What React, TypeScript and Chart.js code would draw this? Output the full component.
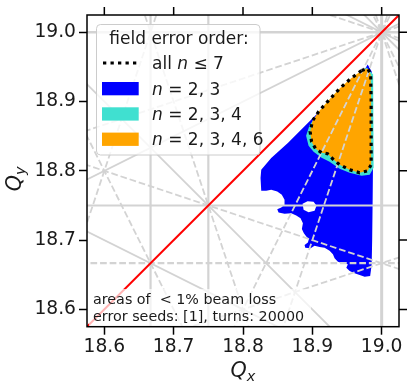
import React, { useEffect, useRef } from 'react';
import { Chart, registerables } from 'chart.js';

Chart.register(...registerables);

// ---- axes ----
const axisMin = 18.575;
const axisMax = 19.025;
const xTickValues = [18.6, 18.7, 18.8, 18.9, 19.0];
const yTickValues = [18.6, 18.7, 18.8, 18.9, 19.0];
const lineSpan = [18.4, 19.2];

// ---- resonance lines m*Qx + n*Qy = p ----
const resonanceM = [1, 0, 2, 3, 0, 2, 2, 1, 1, 2, 1, 4, 0, 3, 3, 1, 1, 2, 3, 3, 1, 1];
const resonanceN = [0, 2, 2, 0, 3, 1, 1, 2, 2, -1, -2, 0, 4, 1, 1, 3, 3, 2, -1, -1, -3, -3];
const resonanceP = [19, 38, 76, 56, 56, 56, 57, 56, 57, 19, -19, 75, 75, 75, 76, 75, 76, 75, 37, 38, -37, -38];

// ---- regions of < 1% beam loss ----
const blueQx = [18.9798, 18.9856, 18.987, 18.9877, 18.987, 18.9863, 18.9856, 18.9834, 18.9755, 18.961, 18.9538, 18.949, 18.9513, 18.9441, 18.9369, 18.9321, 18.9297, 18.9249, 18.9177, 18.9105, 18.9032, 18.8975, 18.8898, 18.8888, 18.8936, 18.895, 18.8913, 18.8878, 18.8849, 18.8864, 18.883, 18.8768, 18.8696, 18.8599, 18.8513, 18.8494, 18.8552, 18.8599, 18.8599, 18.856, 18.8494, 18.8407, 18.8335, 18.8263, 18.8253, 18.8263, 18.8407, 18.8647, 18.8888, 18.908, 18.9321, 18.9466, 18.961, 18.9755];
const blueQy = [18.9535, 18.9434, 18.9029, 18.8305, 18.7582, 18.7003, 18.6641, 18.6482, 18.6472, 18.6521, 18.6554, 18.6602, 18.6651, 18.6666, 18.6689, 18.6738, 18.6796, 18.6848, 18.6891, 18.6902, 18.692, 18.6883, 18.6891, 18.6931, 18.6964, 18.7017, 18.7051, 18.71, 18.7162, 18.7245, 18.7317, 18.7355, 18.7389, 18.7379, 18.7398, 18.7447, 18.747, 18.7509, 18.7582, 18.7654, 18.7702, 18.7727, 18.7712, 18.7712, 18.7896, 18.8016, 18.8185, 18.8402, 18.8643, 18.8836, 18.9077, 18.9221, 18.9318, 18.9463];

const holeQx = [18.8859, 18.8931, 18.9018, 18.9061, 18.9032, 18.8946, 18.8874];
const holeQy = [18.7524, 18.756, 18.7553, 18.7495, 18.7423, 18.7401, 18.7437];

const cyanQx = [18.9682, 18.9783, 18.9877, 18.9884, 18.9827, 18.9711, 18.9538, 18.9394, 18.9249, 18.9134, 18.9018, 18.8946, 18.891, 18.896, 18.906, 18.918, 18.936, 18.952];
const cyanQy = [18.942, 18.9492, 18.9391, 18.8045, 18.7944, 18.7929, 18.7973, 18.803, 18.8132, 18.819, 18.8276, 18.8363, 18.8508, 18.866, 18.88, 18.895, 18.915, 18.929];

const orangeQx = [18.9711, 18.9798, 18.9841, 18.9848, 18.9848, 18.9798, 18.9682, 18.9538, 18.9394, 18.9292, 18.922, 18.9134, 18.9047, 18.8989, 18.8968, 18.9004, 18.909, 18.922, 18.9394, 18.9538];
const orangeQy = [18.9449, 18.9478, 18.9391, 18.9029, 18.8088, 18.8001, 18.7973, 18.8016, 18.8088, 18.8175, 18.8247, 18.8262, 18.832, 18.8421, 18.8566, 18.8725, 18.8855, 18.9, 18.9188, 18.9318];

// ---- texts ----
const legendTitle = 'field error order:';
const legendAllLabel = ['all ', 'n', ' \u2264 7'];
const legendOrders = ['2, 3', '2, 3, 4', '2, 3, 4, 6'];
const noteLines = ['areas of  < 1% beam loss', 'error seeds: [1], turns: 20000'];

const BLUE = '#0000ff';
const CYAN = '#40e0d0';
const ORANGE = '#ffa500';
const GREY = '#d3d3d3';
const INK = '#1a1a1a';
const FONT = '"DejaVu Sans", "Liberation Sans", sans-serif';

function polygon(xs: number[], ys: number[]) {
  const pts = xs.map((x, i) => ({ x, y: ys[i] }));
  pts.push({ x: xs[0], y: ys[0] });
  return pts;
}

function fillDataset(xs: number[], ys: number[], color: string, order: number) {
  return {
    data: polygon(xs, ys),
    borderWidth: 0,
    borderColor: 'rgba(0,0,0,0)',
    backgroundColor: color,
    fill: 'shape',
    pointRadius: 0,
    order,
  };
}

function resonanceDatasets() {
  return resonanceM.map((m, i) => {
    const n = resonanceN[i];
    const p = resonanceP[i];
    let data;
    if (n === 0) {
      data = [{ x: p / m, y: lineSpan[0] }, { x: p / m, y: lineSpan[1] }];
    } else {
      data = lineSpan.map((x) => ({ x, y: (p - m * x) / n }));
    }
    const dashed = Math.abs(n) % 2 === 1;
    const integer = (n === 0 && Math.abs(p / m - 19) < 1e-9) || (m === 0 && Math.abs(p / n - 19) < 1e-9);
    const axisLine = n === 0 || m === 0;
    return {
      data,
      borderColor: GREY,
      borderWidth: integer ? (n === 0 ? 3 : 2.5) : axisLine ? 2.2 : 1.8,
      borderDash: dashed ? [6.7, 2.9] : [],
      fill: false,
      pointRadius: 0,
      order: 50,
    };
  });
}

function drawRich(ctx: CanvasRenderingContext2D, x: number, y: number, parts: [string, boolean][], size: number) {
  let cx = x;
  for (const [t, italic] of parts) {
    ctx.font = `${italic ? 'italic ' : ''}${size}px ${FONT}`;
    ctx.fillText(t, cx, y);
    cx += ctx.measureText(t).width;
  }
}

const decor = {
  id: 'decor',
  afterDraw(chart: any) {
    const { ctx, chartArea: a } = chart;
    const xs = chart.scales.x;
    const ys = chart.scales.y;
    ctx.save();

    // note box
    ctx.fillStyle = 'rgba(255,255,255,0.7)';
    ctx.fillRect(89, 289, 222, a.bottom - 289);
    ctx.fillStyle = INK;
    ctx.textAlign = 'left';
    ctx.textBaseline = 'alphabetic';
    ctx.font = `14.3px ${FONT}`;
    ctx.fillText(noteLines[0], 93, 304);
    ctx.fillText(noteLines[1], 93, 320.7);

    // legend
    const lx = 96.5, ly = 24.5, lw = 163.5, lh = 130.5, r = 4;
    ctx.beginPath();
    ctx.moveTo(lx + r, ly);
    ctx.arcTo(lx + lw, ly, lx + lw, ly + lh, r);
    ctx.arcTo(lx + lw, ly + lh, lx, ly + lh, r);
    ctx.arcTo(lx, ly + lh, lx, ly, r);
    ctx.arcTo(lx, ly, lx + lw, ly, r);
    ctx.closePath();
    ctx.fillStyle = 'rgba(255,255,255,0.8)';
    ctx.fill();
    ctx.strokeStyle = '#cccccc';
    ctx.lineWidth = 1;
    ctx.stroke();

    ctx.fillStyle = INK;
    ctx.font = `17px ${FONT}`;
    ctx.textAlign = 'center';
    ctx.fillText(legendTitle, 179, 43.5);
    ctx.textAlign = 'left';

    // dotted handle
    ctx.strokeStyle = '#000';
    ctx.lineWidth = 3.2;
    ctx.setLineDash([3.3, 4.2]);
    ctx.beginPath();
    ctx.moveTo(103, 63);
    ctx.lineTo(137, 63);
    ctx.stroke();
    ctx.setLineDash([]);
    ctx.fillStyle = INK;
    drawRich(ctx, 152, 69, [[legendAllLabel[0], false], [legendAllLabel[1], true], [legendAllLabel[2], false]], 17);

    const colors = [BLUE, CYAN, ORANGE];
    legendOrders.forEach((lab, i) => {
      const top = 82 + i * 25.3;
      ctx.fillStyle = colors[i];
      ctx.fillRect(102, top, 36.7, 13.3);
      ctx.fillStyle = INK;
      drawRich(ctx, 152, top + 12.5, [['n', true], [' = ' + lab, false]], 17);
    });

    // spine
    ctx.strokeStyle = '#000';
    ctx.lineWidth = 1.5;
    ctx.strokeRect(a.left, a.top, a.right - a.left, a.bottom - a.top);

    // top / right ticks
    ctx.beginPath();
    for (const v of xTickValues) {
      const px = xs.getPixelForValue(v);
      ctx.moveTo(px, a.top);
      ctx.lineTo(px, a.top - 8);
    }
    for (const v of yTickValues) {
      const py = ys.getPixelForValue(v);
      ctx.moveTo(a.right, py);
      ctx.lineTo(a.right + 8, py);
    }
    ctx.stroke();

    // axis titles
    ctx.fillStyle = INK;
    ctx.font = `italic 20.7px ${FONT}`;
    const qW = ctx.measureText('Q').width;
    ctx.font = `italic 14.5px ${FONT}`;
    const xW = ctx.measureText('x').width;
    const yW = ctx.measureText('y').width;
    const cx = (a.left + a.right) / 2;
    const x0 = cx - (qW + xW) / 2;
    ctx.font = `italic 20.7px ${FONT}`;
    ctx.fillText('Q', x0, 376.5);
    ctx.font = `italic 14.5px ${FONT}`;
    ctx.fillText('x', x0 + qW, 380.5);

    const cy = (a.top + a.bottom) / 2 + 8;
    ctx.translate(20.5, cy + (qW + yW) / 2);
    ctx.rotate(-Math.PI / 2);
    ctx.font = `italic 20.7px ${FONT}`;
    ctx.fillText('Q', 0, 0);
    ctx.font = `italic 14.5px ${FONT}`;
    ctx.fillText('y', qW, 4);
    ctx.restore();
  },
};

export default function App() {
  const ref = useRef<HTMLCanvasElement>(null);
  useEffect(() => {
    const canvas = ref.current;
    if (!canvas) return;
    const datasets: any[] = [
      fillDataset(blueQx, blueQy, BLUE, 100),
      fillDataset(holeQx, holeQy, '#ffffff', 99),
      fillDataset(cyanQx, cyanQy, CYAN, 98),
      fillDataset(orangeQx, orangeQy, ORANGE, 97),
      ...resonanceDatasets(),
      {
        data: polygon(orangeQx, orangeQy),
        borderColor: '#000',
        borderWidth: 3.2,
        borderDash: [3.2, 4.2],
        borderCapStyle: 'butt',
        fill: false,
        pointRadius: 0,
        order: 10,
      },
      {
        data: lineSpan.map((q) => ({ x: q, y: q })),
        borderColor: '#ff0000',
        borderWidth: 2,
        fill: false,
        pointRadius: 0,
        order: 1,
      },
    ];
    const tickFont = { family: FONT, size: 18.7 };
    const chart = new Chart(canvas, {
      type: 'line',
      data: { datasets },
      options: {
        responsive: false,
        devicePixelRatio: 1,
        animation: false,
        events: [],
        layout: { padding: { left: 0, top: 15, right: 16, bottom: 0 } },
        plugins: { legend: { display: false }, tooltip: { enabled: false } },
        scales: {
          x: {
            type: 'linear',
            min: axisMin,
            max: axisMax,
            afterBuildTicks: (s: any) => { s.ticks = xTickValues.map((value) => ({ value })); },
            afterFit: (s: any) => { s.height = 62.3; s.paddingLeft = 0; s.paddingRight = 0; },
            grid: { display: true, drawOnChartArea: false, drawTicks: true, tickLength: 8, tickWidth: 1.5, tickColor: '#000' },
            border: { display: false },
            ticks: { font: tickFont, color: INK, padding: 1, maxRotation: 0, autoSkip: false, callback: (v: any) => Number(v).toFixed(1) },
          },
          y: {
            type: 'linear',
            min: axisMin,
            max: axisMax,
            afterBuildTicks: (s: any) => { s.ticks = yTickValues.map((value) => ({ value })); },
            afterFit: (s: any) => { s.width = 87; s.paddingTop = 0; s.paddingBottom = 0; },
            grid: { display: true, drawOnChartArea: false, drawTicks: true, tickLength: 8, tickWidth: 1.5, tickColor: '#000' },
            border: { display: false },
            ticks: { font: tickFont, color: INK, padding: 3, autoSkip: false, callback: (v: any) => Number(v).toFixed(1) },
          },
        },
      },
      plugins: [decor],
    } as any);
    return () => chart.destroy();
  }, []);
  return (
    <div style={{ position: 'fixed', left: 0, top: 0, width: 415, height: 389, background: '#fff' }}>
      <canvas ref={ref} width={415} height={389} style={{ display: 'block', width: 415, height: 389 }} />
    </div>
  );
}
